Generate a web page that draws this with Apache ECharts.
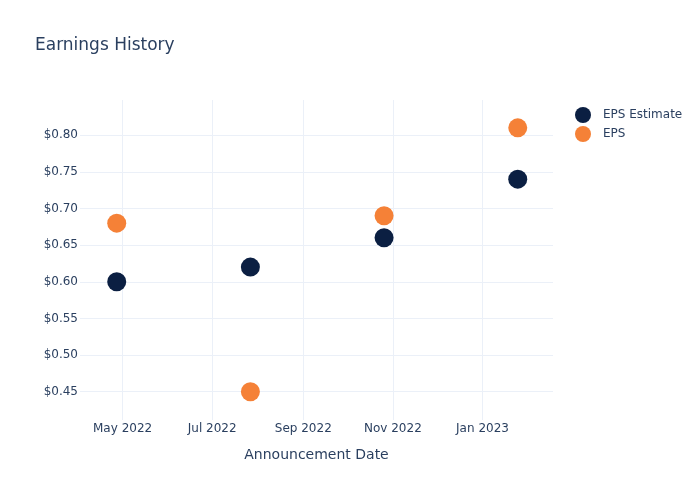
<!DOCTYPE html>
<html>
<head>
<meta charset="utf-8">
<script src="https://cdn.jsdelivr.net/npm/echarts@6/dist/echarts.min.js"></script>
<style>html,body{margin:0;padding:0;background:#fff}#chart{width:700px;height:500px}</style>
</head>
<body>
<div id="chart"></div>
<script>
const announcementDates = ['2022-04-27', '2022-07-27', '2022-10-26', '2023-01-25'];
const epsEstimate = [0.60, 0.62, 0.66, 0.74];
const epsActual = [0.68, 0.45, 0.69, 0.81];
const monthLabels = ['Jan','Feb','Mar','Apr','May','Jun','Jul','Aug','Sep','Oct','Nov','Dec'];
const xRange = ['2022-04-02', '2023-02-18'];
const yRange = [0.4114, 0.848];

const FONT = 'DejaVu Sans';
const TXT = '#2a3f5f';
const GRID = '#ebf0f8';

const chart = echarts.init(document.getElementById('chart'), null, {renderer: 'canvas'});
chart.setOption({
  animation: false,
  backgroundColor: '#ffffff',
  textStyle: {fontFamily: FONT, color: TXT},
  title: {
    text: 'Earnings History',
    left: 35, top: 37, padding: 0,
    textStyle: {fontFamily: FONT, fontSize: 17, fontWeight: 'normal', color: TXT}
  },
  legend: {
    orient: 'vertical',
    left: 575, top: 107,
    padding: 0,
    itemWidth: 16, itemHeight: 16, itemGap: 3,
    textStyle: {fontFamily: FONT, fontSize: 12, color: TXT, padding: [0, 0, 0, 7]},
    data: ['EPS Estimate', 'EPS']
  },
  grid: {left: 80, right: 147, top: 100, bottom: 80, containLabel: false},
  xAxis: {
    type: 'time',
    min: xRange[0], max: xRange[1],
    splitNumber: 4,
    name: 'Announcement Date',
    nameLocation: 'middle',
    nameGap: 28,
    nameTextStyle: {fontFamily: FONT, fontSize: 14, color: TXT},
    axisLine: {show: false},
    axisTick: {show: false},
    splitLine: {show: true, showMinLine: false, showMaxLine: false, lineStyle: {color: GRID, width: 1}},
    axisLabel: {
      fontFamily: FONT, fontSize: 12, color: TXT, margin: 3,
      showMinLabel: false, showMaxLabel: false,
      formatter: function (v) { const d = new Date(v); return monthLabels[d.getMonth()] + ' ' + d.getFullYear(); }
    }
  },
  yAxis: {
    type: 'value',
    min: yRange[0], max: yRange[1],
    splitNumber: 8,
    axisLine: {show: false},
    axisTick: {show: false},
    splitLine: {show: true, showMinLine: false, showMaxLine: false, lineStyle: {color: GRID, width: 1}},
    axisLabel: {
      fontFamily: FONT, fontSize: 12, color: TXT, margin: 2,
      showMinLabel: false, showMaxLabel: false,
      formatter: function (v) { return '$' + v.toFixed(2); }
    }
  },
  series: [
    {
      name: 'EPS Estimate', type: 'scatter', symbol: 'circle', symbolSize: 19,
      itemStyle: {color: '#0b1f42', opacity: 1},
      data: announcementDates.map((d, i) => [d, epsEstimate[i]])
    },
    {
      name: 'EPS', type: 'scatter', symbol: 'circle', symbolSize: 19,
      itemStyle: {color: '#f58137', opacity: 1},
      data: announcementDates.map((d, i) => [d, epsActual[i]])
    }
  ]
});
</script>
</body>
</html>
